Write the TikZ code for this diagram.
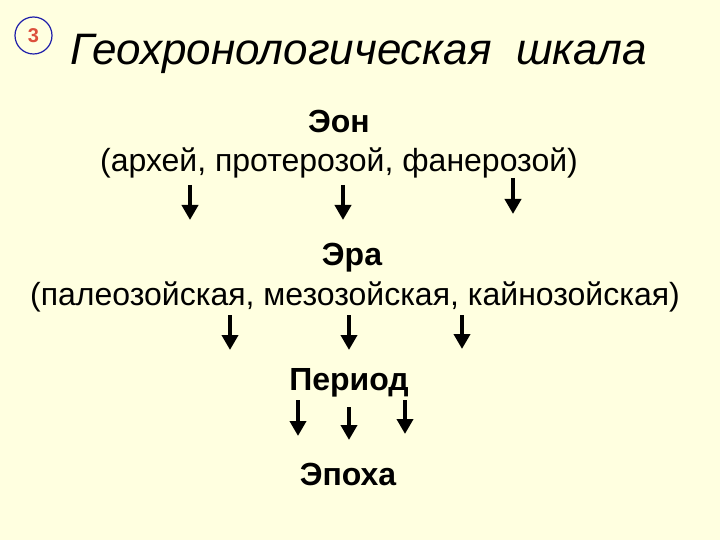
\documentclass[tikz,border=0pt]{standalone}
\usepackage{fontspec}
\setmainfont{Liberation Sans}
\usetikzlibrary{arrows.meta}
\definecolor{bg}{RGB}{255,255,224}
\definecolor{numred}{RGB}{220,80,60}
\definecolor{circblue}{RGB}{30,30,170}
\tikzset{
  plain/.style={anchor=base, inner sep=0pt, font=\fontsize{32}{38}\selectfont},
  lvl/.style={anchor=base, inner sep=0pt, font=\fontsize{32}{38}\selectfont\bfseries},
  darrow/.style={line width=4pt, -{Triangle[width=16pt,length=15pt]}}
}
\begin{document}
\begin{tikzpicture}[x=1pt,y=-1pt]
\fill[bg] (0,0) rectangle (720,540);
\useasboundingbox (0,0) rectangle (720,540);
% number badge
\node (badge) [circle, draw=circblue, line width=1.2pt, minimum size=37pt, inner sep=0pt,
  text=numred, font=\fontsize{20}{22}\selectfont\bfseries] at (33.5,35.5) {3};
% title
\node (title) [anchor=base west, inner sep=0pt, font=\fontsize{44}{50}\selectfont\itshape] at (70,65) {Геохронологическая\ \ шкала};
% texts
\node (eon) [lvl] at (339,133) {Эон};
\node (eonlist) [plain] at (339,172) {(архей, протерозой, фанерозой)};
\node (era) [lvl] at (352,265) {Эра};
\node (eralist) [plain] at (355,305) {(палеозойская, мезозойская, кайнозойская)};
\node (period) [lvl] at (349,390) {Период};
\node (epoch) [lvl] at (348,485) {Эпоха};
% arrow end points
\coordinate (a1s) at (190,185); \coordinate (a1e) at (190,220);
\coordinate (a2s) at (343,185); \coordinate (a2e) at (343,220);
\coordinate (a3s) at (513,178); \coordinate (a3e) at (513,214);
\coordinate (b1s) at (230,315); \coordinate (b1e) at (230,350);
\coordinate (b2s) at (349,315); \coordinate (b2e) at (349,350);
\coordinate (b3s) at (462,315); \coordinate (b3e) at (462,349);
\coordinate (c1s) at (298,400); \coordinate (c1e) at (298,436);
\coordinate (c2s) at (349,407); \coordinate (c2e) at (349,440);
\coordinate (c3s) at (405,400); \coordinate (c3e) at (405,434);
\foreach \p in {a1,a2,a3,b1,b2,b3,c1,c2,c3}
  \draw[darrow] (\p s) -- (\p e);
\end{tikzpicture}
\end{document}
